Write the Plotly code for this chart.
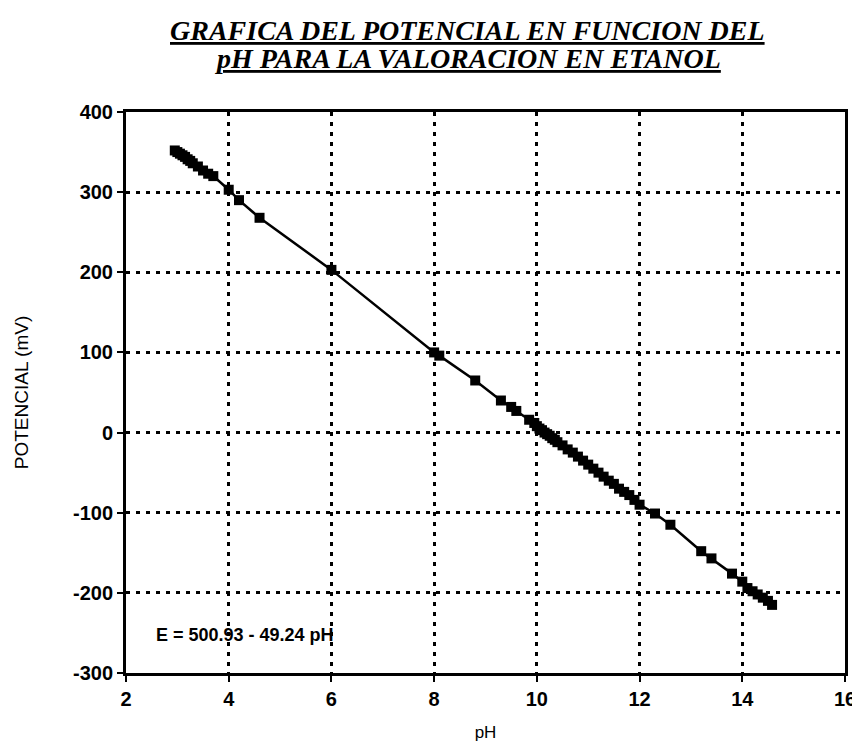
import plotly.graph_objects as go

ph = [2.95, 3.0, 3.05, 3.1, 3.15, 3.2, 3.25, 3.3, 3.4, 3.5, 3.6, 3.7, 4.0, 4.2, 4.6,
      6.0, 8.0, 8.1, 8.8, 9.3, 9.5, 9.6, 9.85, 9.95, 10.0, 10.05, 10.1, 10.15, 10.2,
      10.25, 10.3, 10.35, 10.4, 10.5, 10.6, 10.7, 10.8, 10.9, 11.0, 11.1, 11.2, 11.3,
      11.4, 11.5, 11.6, 11.7, 11.8, 11.9, 12.0, 12.3, 12.6, 13.2, 13.4, 13.8, 14.0,
      14.1, 14.2, 14.3, 14.4, 14.5, 14.58]
potencial = [352, 350, 348, 346, 344, 341, 339, 336, 332, 327, 323, 320, 303, 290, 268,
             203, 100, 96, 65, 40, 32, 27, 16, 12, 8, 5, 3, 0, -2,
             -4, -7, -9, -12, -16, -21, -25, -30, -35, -40, -45, -50, -55,
             -60, -64, -70, -74, -78, -84, -90, -101, -115, -148, -157, -176, -186,
             -194, -198, -202, -206, -210, -215]

x_ticks = [2, 4, 6, 8, 10, 12, 14, 16]
y_ticks = [-300, -200, -100, 0, 100, 200, 300, 400]
y_ticktext = ["-300", "-200", "-100", "0", "100", "200", "300", "400"]

title_lines = ["GRAFICA DEL POTENCIAL EN FUNCION DEL", "pH PARA LA VALORACION EN ETANOL"]
equation = "E = 500.93 - 49.24 pH"

fig = go.Figure()
fig.add_trace(go.Scatter(
    x=ph, y=potencial, mode="lines+markers",
    line=dict(color="black", width=2.5),
    marker=dict(symbol="square", size=10, color="black"),
    showlegend=False,
))

axis_common = dict(
    showline=True, linecolor="black", linewidth=3, mirror=True,
    ticks="outside", ticklen=6, tickwidth=2, tickcolor="black",
    showgrid=True, gridcolor="black", gridwidth=2.5, griddash="4px,6px",
    zeroline=False,
    tickfont=dict(family="Liberation Sans", size=20, color="black", weight="bold"),
)

fig.update_xaxes(range=[2, 16], tickvals=x_ticks, **axis_common,
                 title=dict(text="pH", font=dict(family="Liberation Sans", size=17, color="black"),
                            standoff=18))
fig.update_yaxes(range=[-300, 400], tickvals=y_ticks, ticktext=y_ticktext, **axis_common,
                 title=dict(text="POTENCIAL (mV)", font=dict(family="Liberation Sans", size=19, color="black"),
                            standoff=40))

title_font = dict(family="Liberation Serif", size=28, color="black")
fig.add_annotation(
    x=0.475, y=1.0, xref="paper", yref="paper", yanchor="middle", xanchor="center", yshift=82,
    text="<b><i><u>" + title_lines[0] + "</u></i></b>",
    showarrow=False, font=title_font,
)
fig.add_annotation(
    x=0.475, y=1.0, xref="paper", yref="paper", yanchor="middle", xanchor="center", yshift=54,
    text="<b><i><u>" + title_lines[1] + "</u></i></b>",
    showarrow=False, font=title_font,
)
fig.add_annotation(
    x=2.55, y=-253, xref="x", yref="y", xanchor="left", yanchor="middle",
    text="<b>" + equation + "</b>", showarrow=False,
    font=dict(family="Liberation Sans", size=18, color="black"),
)

fig.update_layout(
    width=860, height=749,
    margin=dict(l=118, r=14, t=104, b=84),
    paper_bgcolor="white", plot_bgcolor="white",
)

fig.write_html("out.html")
